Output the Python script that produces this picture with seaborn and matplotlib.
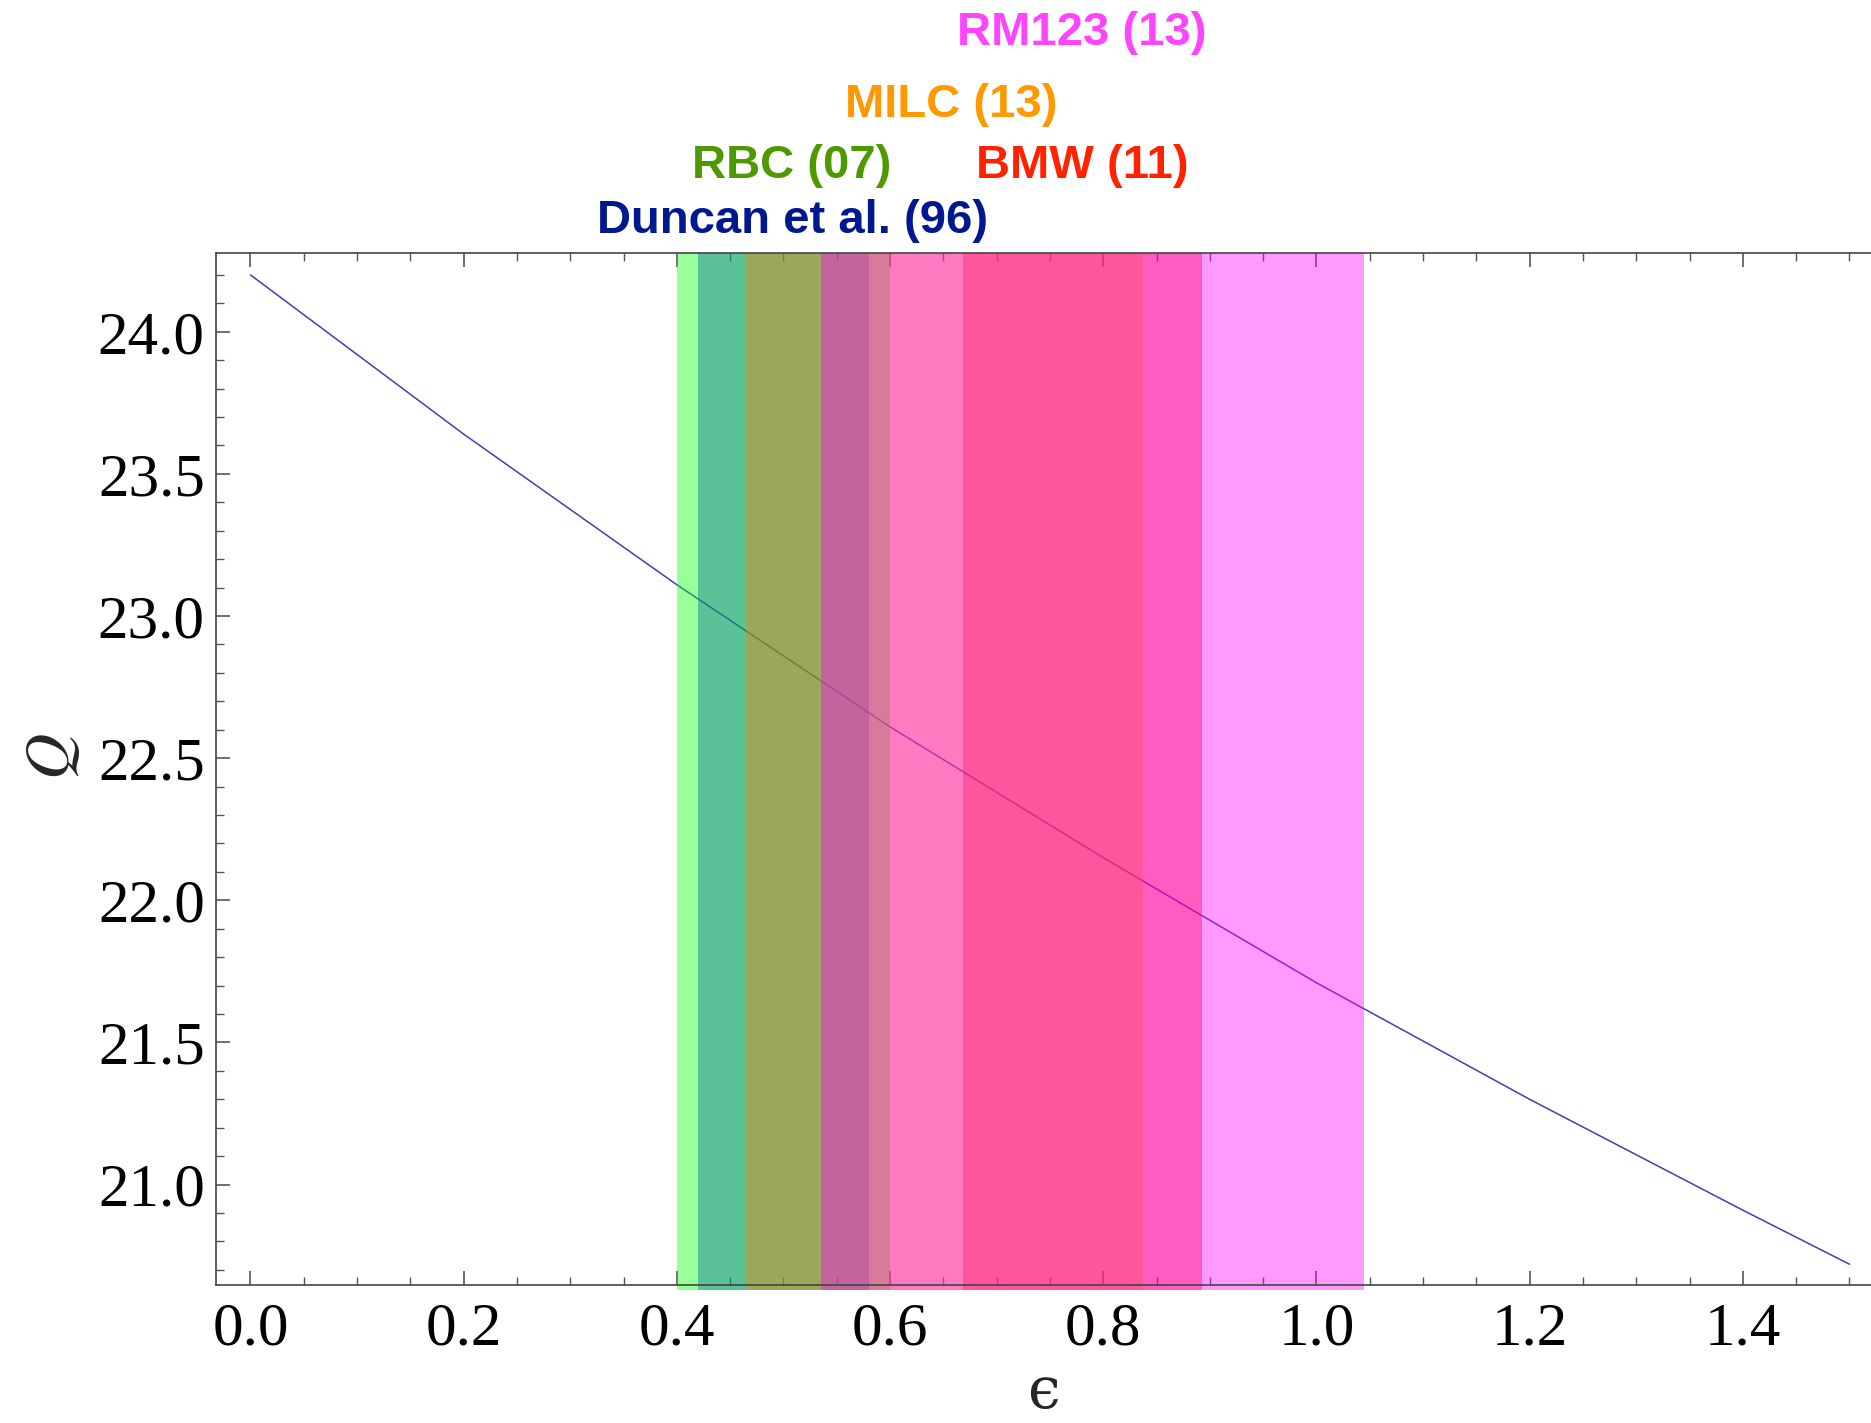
import matplotlib
matplotlib.use("Agg")
import matplotlib.pyplot as plt
from matplotlib.ticker import MultipleLocator
import seaborn as sns
import pandas as pd

# Q(eps)
eps = [0.0, 0.2, 0.4, 0.6, 0.8, 1.0, 1.2, 1.4, 1.5]
q_vals = [24.20, 23.64, 23.11, 22.61, 22.15, 21.71, 21.30, 20.91, 20.72]

# lattice determinations of eps (band ranges), drawn in this order
groups = ["Duncan et al. (96)", "RBC (07)", "BMW (11)", "MILC (13)", "RM123 (13)"]
band_lo = [0.42, 0.40, 0.668, 0.465, 0.535]
band_hi = [0.58, 0.60, 0.893, 0.837, 1.045]

band_colors = ["#0000ff", "#00ff00", "#ff0000", "#ff8000", "#ff00ff"]
text_colors = ["#00188f", "#4f9900", "#ff2200", "#ff9900", "#ff44ff"]
label_x = [0.509, 0.508, 0.780, 0.657, 0.780]
label_y = [1.031, 1.084, 1.084, 1.143, 1.213]


def main():
    sns.set_style("white")
    plt.rcParams["font.family"] = ["Liberation Serif", "DejaVu Serif"]
    plt.rcParams["mathtext.fontset"] = "stix"

    df = pd.DataFrame({"eps": eps, "Q": q_vals})

    fig = plt.figure(figsize=(18.71, 14.23), dpi=100)
    ax = fig.add_axes([0.1154, 0.0970, 0.8846, 0.7252])

    sns.lineplot(data=df, x="eps", y="Q", ax=ax, color="#4040b0", lw=1.1, zorder=1)

    for lo, hi, c in zip(band_lo, band_hi, band_colors):
        ax.axvspan(lo, hi, ymin=-0.005, ymax=1.0, color=c, alpha=0.4, lw=0,
                   zorder=2, clip_on=False)

    for g, lx, ly, c in zip(groups, label_x, label_y, text_colors):
        ax.annotate(g, xy=(lx, ly), xycoords=("data", "axes fraction"),
                    ha="center", va="center", color=c, fontsize=34, fontweight="bold",
                    family=["Liberation Sans", "DejaVu Sans"], annotation_clip=False)

    ax.set_xlim(-0.0324, 1.5202)
    ax.set_ylim(20.647, 24.277)

    ax.xaxis.set_major_locator(MultipleLocator(0.2))
    ax.xaxis.set_minor_locator(MultipleLocator(0.05))
    ax.yaxis.set_major_locator(MultipleLocator(0.5))
    ax.yaxis.set_minor_locator(MultipleLocator(0.1))
    ax.set_xticks([0.0, 0.2, 0.4, 0.6, 0.8, 1.0, 1.2, 1.4])
    ax.set_xticklabels(["0.0", "0.2", "0.4", "0.6", "0.8", "1.0", "1.2", "1.4"])

    ax.tick_params(axis="both", which="both", direction="in", color="#555555",
                   bottom=True, top=True, left=True, right=False,
                   labelsize=44, labelcolor="black")
    ax.tick_params(axis="both", which="major", length=10, width=1.2)
    ax.tick_params(axis="both", which="minor", length=6, width=1.0)
    ax.tick_params(axis="x", which="major", pad=12)
    ax.tick_params(axis="y", which="major", pad=8)

    for s in ["left", "bottom", "top"]:
        ax.spines[s].set_color("#444444")
        ax.spines[s].set_linewidth(1.2)
    ax.spines["right"].set_visible(False)

    ax.set_xlabel("\u03f5", fontsize=42, va="center",
                  family=["DejaVu Serif", "Liberation Serif"])
    ax.set_ylabel(r"$Q$", fontsize=46, va="center", ha="center")
    ax.xaxis.set_label_coords(0.5, -0.104)
    ax.yaxis.set_label_coords(-0.098, 0.512)

    fig.savefig("out.png", dpi=100)


if __name__ == "__main__":
    main()
